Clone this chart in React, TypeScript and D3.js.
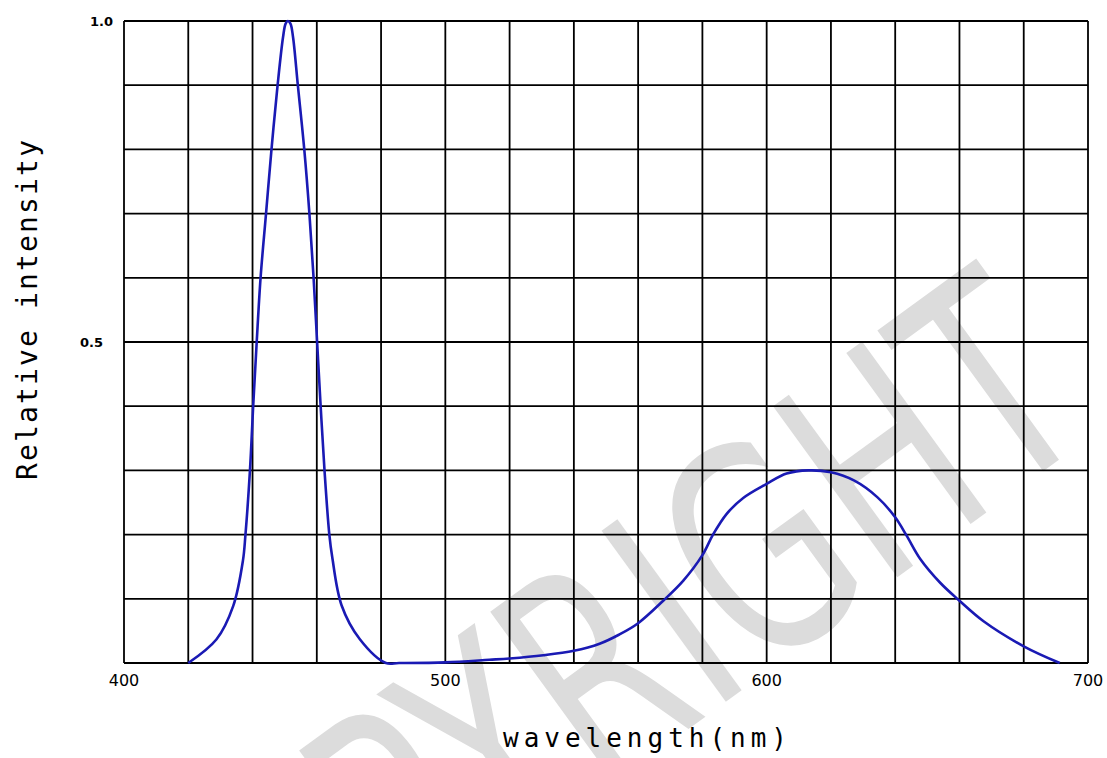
import React, { useRef, useEffect } from 'react';
import * as d3 from 'd3';

// spectrum (nm, relative intensity)
const wavelengths = [
  420, 428.8, 434, 437, 437.8, 439.2, 440.2, 441.3, 442.5, 444.2, 445.9, 447.8, 449.5, 450.3, 451,
  451.8, 452.6, 454.1, 456.1, 457.7, 459, 460.1, 461.2, 462.4, 463.9, 464.8, 467.7, 473.4, 481.5,
  485.6, 500, 513.7, 520, 530.5, 540, 548, 554, 560, 567.8, 574, 580, 583.3, 587.5, 592.7,
  600, 606.2, 613, 620, 627.3, 634.5, 640, 643.6, 647.8, 654, 660, 667.5, 680, 691.2
];
const intensities = [
  0, 0.037, 0.089, 0.159, 0.2, 0.3, 0.4, 0.5, 0.6, 0.7, 0.8, 0.9, 0.975, 0.996, 1.0,
  0.996, 0.975, 0.9, 0.8, 0.7, 0.6, 0.5, 0.4, 0.3, 0.2, 0.165, 0.09, 0.037, 0,
  0, 0.001, 0.005, 0.007, 0.012, 0.019, 0.03, 0.044, 0.062, 0.097, 0.128, 0.168, 0.2, 0.232, 0.257,
  0.279, 0.295, 0.3, 0.297, 0.284, 0.258, 0.227, 0.198, 0.162, 0.125, 0.097, 0.065, 0.026, 0
];
const xTickLabels = [400, 500, 600, 700];
const yTickLabels = [0.5, 1.0];
const xTitle = 'wavelength(nm)';
const yTitle = 'Relative intensity';
const watermark = 'COPYRIGHT';

const width = 1107;
const height = 758;
const margin = { top: 21, right: 19, bottom: 95, left: 124 };

const App = () => {
  const svgRef = useRef(null);

  useEffect(() => {
    const svg = d3.select(svgRef.current);
    svg.selectAll('*').remove();

    const innerWidth = width - margin.left - margin.right;
    const innerHeight = height - margin.top - margin.bottom;

    const x = d3.scaleLinear().domain([400, 700]).range([margin.left, margin.left + innerWidth]);
    const y = d3.scaleLinear().domain([0, 1]).range([margin.top + innerHeight, margin.top]);

    svg.append('rect').attr('width', width).attr('height', height).attr('fill', '#fff');

    // watermark behind everything (cut by the page edge, as in the source)
    svg.append('text')
      .attr('transform', 'translate(1100,430) rotate(-36)')
      .attr('text-anchor', 'end')
      .attr('font-family', 'DejaVu Sans')
      .attr('font-size', 290)
      .attr('textLength', 1150)
      .attr('lengthAdjust', 'spacingAndGlyphs')
      .attr('fill', '#dcdcdc')
      .text(watermark);

    // grid
    const grid = svg.append('g').attr('stroke', '#000').attr('stroke-width', 1.8);
    grid.selectAll('.gx')
      .data(d3.range(400, 701, 20))
      .enter()
      .append('line')
      .attr('x1', d => x(d)).attr('x2', d => x(d))
      .attr('y1', y(0)).attr('y2', y(1));
    grid.selectAll('.gy')
      .data(d3.range(0, 11).map(i => i / 10))
      .enter()
      .append('line')
      .attr('y1', d => y(d)).attr('y2', d => y(d))
      .attr('x1', x(400)).attr('x2', x(700));

    // tick labels
    svg.selectAll('.xl')
      .data(xTickLabels)
      .enter()
      .append('text')
      .attr('x', d => x(d))
      .attr('y', y(0) + 23)
      .attr('text-anchor', 'middle')
      .attr('font-family', 'DejaVu Sans')
      .attr('font-size', 16)
      .attr('fill', '#000')
      .text(d => d);

    svg.selectAll('.yl')
      .data(yTickLabels)
      .enter()
      .append('text')
      .attr('x', d => margin.left - (d === 1 ? 11 : 21))
      .attr('y', d => y(d) + 5)
      .attr('text-anchor', 'end')
      .attr('font-family', 'DejaVu Sans')
      .attr('font-weight', 'bold')
      .attr('font-size', 13)
      .attr('fill', '#000')
      .text(d => d.toFixed(1));

    // axis titles
    svg.append('text')
      .attr('x', 503)
      .attr('y', 747)
      .attr('font-family', 'DejaVu Sans Mono')
      .attr('font-size', 26)
      .attr('textLength', 284)
      .attr('lengthAdjust', 'spacing')
      .attr('fill', '#000')
      .text(xTitle);

    svg.append('text')
      .attr('transform', 'translate(37,480) rotate(-90)')
      .attr('font-family', 'DejaVu Sans Mono')
      .attr('font-size', 28)
      .attr('textLength', 340)
      .attr('lengthAdjust', 'spacing')
      .attr('fill', '#000')
      .text(yTitle);

    // spectrum curve
    const points = wavelengths.map((w, i) => [w, intensities[i]]);
    const line = d3.line()
      .x(d => x(d[0]))
      .y(d => y(d[1]))
      .curve(d3.curveCatmullRom.alpha(0.5));

    svg.append('path')
      .datum(points)
      .attr('d', line)
      .attr('fill', 'none')
      .attr('stroke', '#1a1ab4')
      .attr('stroke-width', 2.6)
      .attr('stroke-linejoin', 'round');
  }, []);

  return (
    <svg
      ref={svgRef}
      width={width}
      height={height}
      style={{ position: 'absolute', left: 0, top: 0, display: 'block' }}
    />
  );
};

export default App;
